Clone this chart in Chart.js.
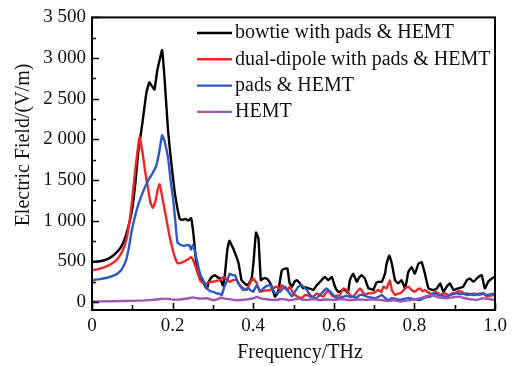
<!DOCTYPE html>
<html>
<head>
<meta charset="utf-8">
<script src="https://cdn.jsdelivr.net/npm/chart.js@4.4.0/dist/chart.umd.min.js"></script>
<style>
  body { margin: 0; background: #fff; }
</style>
</head>
<body>
<canvas id="grafico" width="515" height="366"></canvas>
<script>
// bowtie with pads & HEMT
const bowtieF = [0, 0.02, 0.04, 0.055, 0.07, 0.08, 0.09, 0.1, 0.108, 0.115, 0.125, 0.135, 0.142,
  0.148, 0.155, 0.162, 0.168, 0.174, 0.18, 0.189, 0.197, 0.205, 0.212,
  0.218, 0.225, 0.232, 0.24, 0.246, 0.252, 0.26, 0.268, 0.278, 0.285,
  0.29, 0.298, 0.305, 0.312, 0.318, 0.325, 0.33, 0.336, 0.341, 0.346,
  0.351, 0.358, 0.364, 0.371, 0.378, 0.384, 0.39, 0.396, 0.401, 0.407,
  0.413, 0.419, 0.426, 0.433, 0.44, 0.446, 0.454, 0.462, 0.471, 0.479,
  0.485, 0.49, 0.496, 0.503, 0.508, 0.516, 0.524, 0.53, 0.537, 0.543,
  0.549, 0.558, 0.566, 0.572, 0.578, 0.586, 0.595, 0.603, 0.61, 0.615,
  0.622, 0.628, 0.635, 0.64, 0.648, 0.657, 0.663, 0.669, 0.677, 0.686,
  0.692, 0.698, 0.705, 0.71, 0.719, 0.727, 0.731, 0.738, 0.744, 0.752,
  0.76, 0.768, 0.777, 0.785, 0.793, 0.801, 0.81, 0.818, 0.826, 0.835,
  0.847, 0.856, 0.864, 0.872, 0.88, 0.888, 0.897, 0.909, 0.921, 0.93,
  0.938, 0.946, 0.959, 0.967, 0.975, 0.983, 0.992, 1.0];
const bowtieE = [490, 500, 530, 580, 660, 760, 920, 1150, 1480, 1850, 2200, 2573, 2700,
  2660, 2613, 2850, 2980, 3098, 2750, 2087, 1700, 1360, 1150,
  1020, 1010, 1020, 1000, 1030, 820, 420, 300, 220, 160,
  250, 310, 328, 300, 290, 200, 348, 650, 752, 700,
  651, 560, 469, 267, 230, 206, 230, 287, 500, 853,
  780, 267, 290, 287, 250, 186, 64, 125, 388, 409,
  409, 240, 186, 250, 267, 227, 166, 180, 166, 160,
  146, 206, 247, 280, 307, 267, 307, 186, 130, 125,
  146, 146, 110, 267, 348, 247, 300, 328, 287, 166,
  160, 146, 230, 247, 247, 348, 469, 570, 469, 267,
  227, 267, 166, 368, 428, 348, 469, 489, 348, 166,
  146, 166, 227, 125, 186, 227, 146, 166, 186, 267,
  287, 247, 307, 328, 166, 247, 287, 307];

// dual-dipole with pads & HEMT
const dualF = [0, 0.02, 0.04, 0.055, 0.065, 0.075, 0.085, 0.092, 0.098, 0.108, 0.118, 0.125,
  0.132, 0.139, 0.145, 0.151, 0.158, 0.164, 0.168, 0.174, 0.184, 0.192,
  0.201, 0.207, 0.213, 0.22, 0.23, 0.24, 0.246, 0.252, 0.26, 0.268,
  0.276, 0.285, 0.293, 0.301, 0.31, 0.318, 0.326, 0.334, 0.342, 0.35,
  0.359, 0.365, 0.371, 0.378, 0.384, 0.392, 0.4, 0.409, 0.417, 0.43,
  0.442, 0.45, 0.458, 0.466, 0.471, 0.479, 0.484, 0.491, 0.497, 0.504,
  0.512, 0.52, 0.528, 0.533, 0.541, 0.549, 0.558, 0.567, 0.574, 0.58,
  0.586, 0.592, 0.599, 0.607, 0.615, 0.624, 0.632, 0.64, 0.648, 0.657,
  0.665, 0.672, 0.677, 0.685, 0.694, 0.702, 0.71, 0.718, 0.723, 0.731,
  0.739, 0.744, 0.752, 0.758, 0.764, 0.77, 0.777, 0.785, 0.793, 0.801,
  0.807, 0.814, 0.82, 0.826, 0.833, 0.839, 0.847, 0.851, 0.858, 0.864,
  0.87, 0.876, 0.882, 0.888, 0.895, 0.901, 0.909, 0.917, 0.923, 0.93,
  0.938, 0.946, 0.955, 0.963, 0.971, 0.98, 0.988, 0.996, 1.0];
const dualE = [388, 410, 445, 490, 540, 620, 760, 950, 1180, 1650, 2027, 1850,
  1600, 1400, 1220, 1157, 1250, 1400, 1448, 1300, 1035, 820,
  631, 530, 473, 480, 500, 530, 550, 500, 388, 267,
  230, 227, 247, 247, 260, 267, 307, 280, 247, 267,
  267, 220, 186, 160, 146, 227, 287, 227, 125, 140,
  146, 170, 186, 160, 206, 166, 146, 186, 120, 85,
  60, 45, 80, 85, 64, 64, 105, 80, 64, 110,
  140, 100, 64, 75, 85, 166, 146, 85, 64, 120,
  166, 120, 85, 105, 105, 120, 146, 120, 186, 166,
  267, 146, 85, 100, 105, 125, 166, 186, 146, 125,
  150, 166, 130, 146, 120, 105, 85, 125, 110, 85,
  100, 105, 90, 85, 110, 105, 130, 125, 100, 85,
  90, 105, 95, 85, 110, 64, 75, 85, 80];

// pads & HEMT
const padsF = [0, 0.02, 0.04, 0.055, 0.065, 0.075, 0.085, 0.092, 0.098, 0.112, 0.127, 0.14,
  0.15, 0.16, 0.167, 0.174, 0.18, 0.189, 0.195, 0.201, 0.207, 0.212,
  0.22, 0.23, 0.236, 0.242, 0.246, 0.25, 0.255, 0.26, 0.264, 0.27,
  0.276, 0.282, 0.289, 0.297, 0.303, 0.309, 0.316, 0.322, 0.328, 0.334,
  0.342, 0.348, 0.355, 0.363, 0.37, 0.375, 0.382, 0.388, 0.394, 0.4,
  0.409, 0.417, 0.424, 0.43, 0.436, 0.442, 0.448, 0.454, 0.46, 0.467,
  0.473, 0.479, 0.485, 0.491, 0.496, 0.504, 0.512, 0.52, 0.526, 0.533,
  0.539, 0.545, 0.552, 0.558, 0.564, 0.57, 0.576, 0.582, 0.588, 0.595,
  0.601, 0.607, 0.615, 0.624, 0.632, 0.64, 0.648, 0.656, 0.665, 0.673,
  0.682, 0.69, 0.702, 0.71, 0.719, 0.727, 0.735, 0.744, 0.752, 0.764,
  0.775, 0.789, 0.8, 0.814, 0.825, 0.839, 0.847, 0.856, 0.866, 0.88,
  0.89, 0.905, 0.915, 0.93, 0.938, 0.946, 0.955, 0.963, 0.972, 0.98,
  0.99, 1.0];
const padsE = [267, 280, 300, 325, 355, 410, 520, 680, 860, 1150, 1360, 1500,
  1580, 1683, 1850, 2050, 1980, 1763, 1500, 1278, 980, 732,
  700, 690, 700, 692, 640, 700, 631, 520, 428, 320,
  267, 200, 146, 125, 120, 105, 100, 85, 180, 247,
  348, 330, 328, 227, 180, 146, 160, 166, 140, 125,
  206, 125, 160, 186, 200, 206, 160, 105, 115, 125,
  160, 186, 146, 100, 64, 130, 186, 206, 180, 146,
  100, 64, 50, 45, 80, 105, 140, 166, 140, 105,
  70, 45, 55, 64, 75, 60, 64, 50, 85, 85,
  64, 55, 45, 60, 85, 50, 20, 45, 40, 24,
  40, 45, 30, 24, 50, 64, 110, 90, 80, 64,
  85, 105, 95, 105, 95, 85, 90, 105, 95, 85,
  95, 100];

// HEMT
const hemtF = [0, 0.05, 0.1, 0.13, 0.15, 0.17, 0.185, 0.2, 0.22, 0.24,
  0.25, 0.26, 0.27, 0.285, 0.3, 0.31, 0.32, 0.33, 0.345, 0.36,
  0.371, 0.385, 0.4, 0.409, 0.42, 0.43, 0.445, 0.458, 0.47, 0.48,
  0.49, 0.5, 0.51, 0.52, 0.535, 0.55, 0.565, 0.58, 0.6, 0.62,
  0.64, 0.66, 0.68, 0.7, 0.715, 0.735, 0.75, 0.765, 0.78, 0.8,
  0.815, 0.83, 0.84, 0.85, 0.865, 0.88, 0.895, 0.91, 0.925, 0.94,
  0.955, 0.97, 0.985, 1.0];
const hemtE = [5, 8, 12, 18, 25, 35, 40, 28, 30, 45,
  55, 45, 40, 45, 20, 30, 50, 40, 30, 20,
  25, 30, 45, 60, 40, 35, 25, 25, 35, 30,
  20, 28, 40, 30, 25, 35, 20, 30, 25, 35,
  20, 30, 25, 30, 24, 10, 20, 4, 15, 30,
  45, 70, 85, 70, 50, 45, 55, 64, 45, 30,
  25, 45, 35, 24];

const etiquetas = ['bowtie with pads & HEMT', 'dual-dipole with pads & HEMT', 'pads & HEMT', 'HEMT'];
const xTicks = [0, 0.2, 0.4, 0.6, 0.8, 1.0];
const yTicks = [0, 500, 1000, 1500, 2000, 2500, 3000, 3500];

const fuente = '"Liberation Serif", "Times New Roman", serif';

function puntos(f, e) {
  return f.map((x, i) => ({ x: x, y: e[i] }));
}

// marco, ticks hacia dentro, leyenda y titulos
const marco = {
  id: 'marco',
  afterDatasetsDraw(chart) {
    const ctx = chart.ctx;
    const a = chart.chartArea;
    const xs = chart.scales.x;
    const ys = chart.scales.y;
    ctx.save();
    ctx.strokeStyle = '#000';
    ctx.lineWidth = 1.6;
    ctx.beginPath();
    for (let v = 0; v <= 3500; v += 250) {
      const y = Math.round(ys.getPixelForValue(v)) + 0.5;
      const len = v % 500 === 0 ? 7 : 4;
      ctx.moveTo(a.left, y);
      ctx.lineTo(a.left + len, y);
    }
    for (let i = 0; i <= 10; i++) {
      const x = Math.round(xs.getPixelForValue(i / 10)) + 0.5;
      const len = i % 2 === 0 ? 7 : 5;
      ctx.moveTo(x, a.bottom);
      ctx.lineTo(x, a.bottom - len);
    }
    ctx.stroke();
    ctx.lineWidth = 2;
    ctx.strokeRect(a.left, a.top, a.right - a.left, a.bottom - a.top);

    // leyenda
    ctx.font = '20px ' + fuente;
    ctx.textBaseline = 'middle';
    ctx.fillStyle = '#111';
    chart.data.datasets.forEach((ds, i) => {
      const y = 33 + i * 26.3;
      ctx.strokeStyle = ds.borderColor;
      ctx.lineWidth = 2.4;
      ctx.beginPath();
      ctx.moveTo(197, y);
      ctx.lineTo(232, y);
      ctx.stroke();
      ctx.fillText(etiquetas[i], 235, y);
    });

    // titulos de ejes
    ctx.textAlign = 'center';
    ctx.fillText('Frequency/THz', 300, 353);
    ctx.translate(24, 145);
    ctx.rotate(-Math.PI / 2);
    ctx.fillText('Electric Field/(V/m)', 0, 0);
    ctx.restore();
  }
};

function graficar() {
  const ctx = document.getElementById('grafico').getContext('2d');
  new Chart(ctx, {
    type: 'line',
    data: {
      datasets: [
        { label: etiquetas[0], data: puntos(bowtieF, bowtieE), borderColor: '#000000', order: 4 },
        { label: etiquetas[1], data: puntos(dualF, dualE), borderColor: '#f02626', order: 3 },
        { label: etiquetas[2], data: puntos(padsF, padsE), borderColor: '#2f58c2', order: 2 },
        { label: etiquetas[3], data: puntos(hemtF, hemtE), borderColor: '#a055b3', order: 1 }
      ]
    },
    options: {
      responsive: false,
      animation: false,
      layout: { padding: { top: 14, right: 20, left: 0, bottom: 0 } },
      elements: {
        point: { radius: 0 },
        line: { borderWidth: 2.4, tension: 0.12, fill: false, borderJoinStyle: 'round' }
      },
      plugins: { legend: { display: false }, tooltip: { enabled: false } },
      scales: {
        x: {
          type: 'linear',
          min: 0,
          max: 1,
          afterBuildTicks: s => { s.ticks = xTicks.map(v => ({ value: v })); },
          afterFit: s => { s.height = 56; },
          grid: { display: false, drawTicks: false },
          border: { display: false },
          ticks: {
            color: '#111',
            padding: 5,
            maxRotation: 0,
            font: { family: fuente, size: 19 },
            callback: v => v === 0 ? '0' : v.toFixed(1)
          }
        },
        y: {
          min: -100,
          max: 3500,
          afterBuildTicks: s => { s.ticks = yTicks.map(v => ({ value: v })); },
          afterFit: s => { s.width = 92; },
          grid: { display: false, drawTicks: false },
          border: { display: false },
          ticks: {
            color: '#111',
            padding: 6,
            font: { family: fuente, size: 19 },
            callback: v => v >= 1000 ? Math.floor(v / 1000) + ' ' + String(v % 1000).padStart(3, '0') : String(v)
          }
        }
      }
    },
    plugins: [marco]
  });
}

graficar();
</script>
</body>
</html>
